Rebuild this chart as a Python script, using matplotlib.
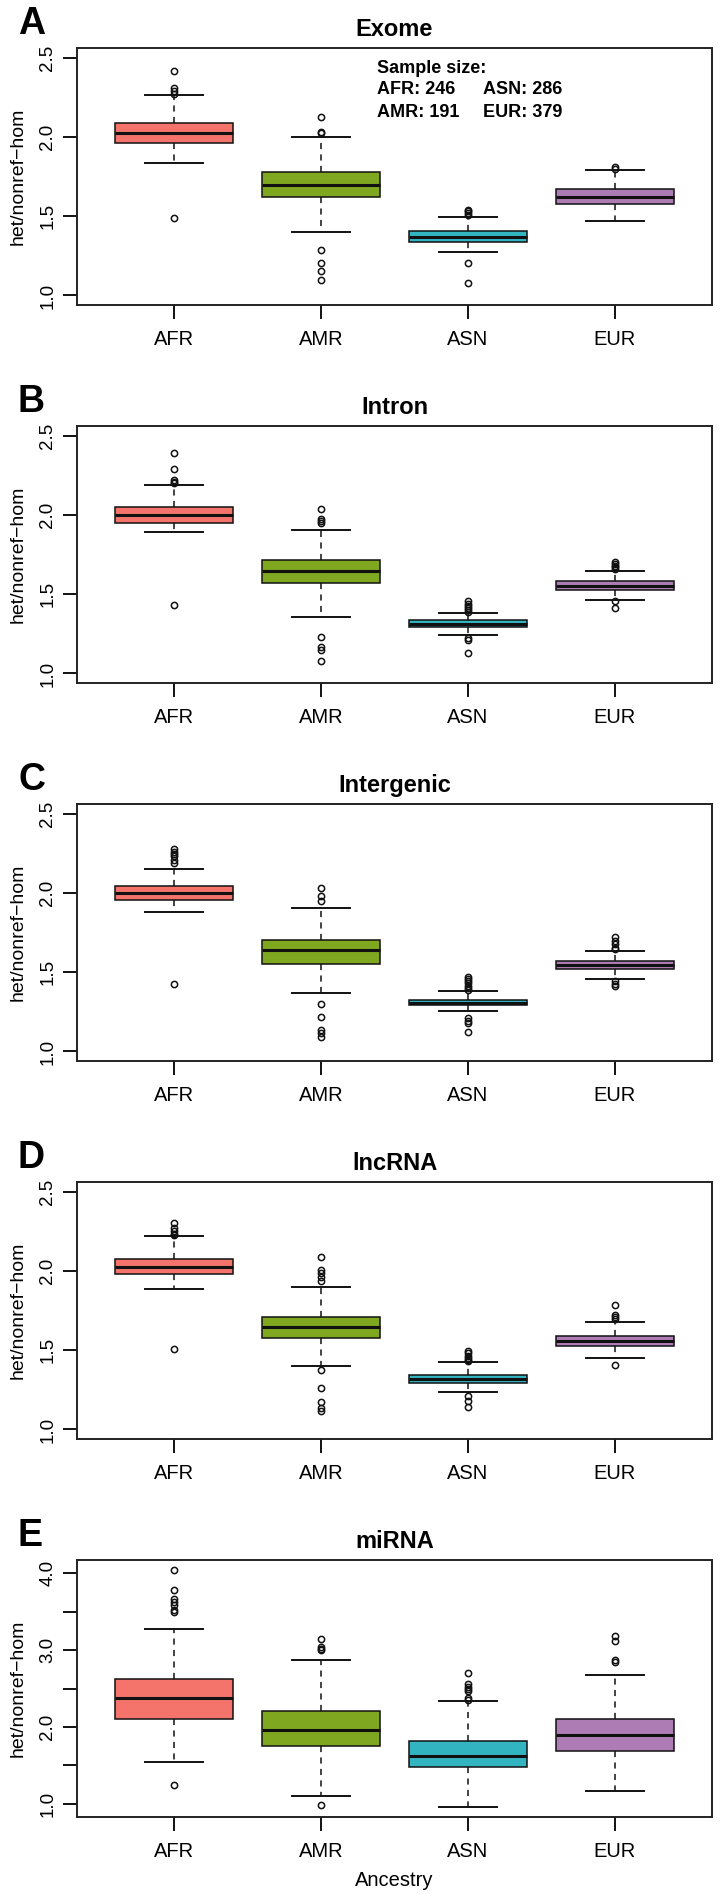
import numpy as np
import matplotlib
matplotlib.use("Agg")
import matplotlib.pyplot as plt

plt.rcParams['font.family'] = ['Liberation Sans', 'DejaVu Sans']

groups = ["AFR", "AMR", "ASN", "EUR"]
colors = ["#F4736B", "#7FA720", "#32B4C1", "#AE7CB4"]

# Exome
exome_lo = [1.836, 1.398, 1.272, 1.467]
exome_q1 = [1.960, 1.620, 1.335, 1.576]
exome_med = [2.022, 1.698, 1.369, 1.620]
exome_q3 = [2.085, 1.777, 1.409, 1.673]
exome_hi = [2.263, 2.000, 1.492, 1.792]
exome_fliers = [[2.414, 2.305, 2.290, 2.272, 1.488],
                 [2.127, 2.033, 2.025, 1.285, 1.205, 1.153, 1.096],
                 [1.540, 1.530, 1.520, 1.510, 1.205, 1.080],
                 [1.813, 1.800]]

# Intron
intron_lo = [1.892, 1.359, 1.245, 1.466]
intron_q1 = [1.950, 1.573, 1.296, 1.527]
intron_med = [1.996, 1.648, 1.315, 1.554]
intron_q3 = [2.051, 1.717, 1.334, 1.581]
intron_hi = [2.185, 1.906, 1.384, 1.648]
intron_fliers = [[2.391, 2.290, 2.221, 2.210, 2.200, 1.430],
                 [2.038, 1.975, 1.959, 1.948, 1.229, 1.166, 1.145, 1.076],
                 [1.455, 1.440, 1.425, 1.410, 1.400, 1.390, 1.224, 1.210, 1.126],
                 [1.700, 1.690, 1.680, 1.670, 1.660, 1.455, 1.413]]

# Intergenic
inter_lo = [1.877, 1.369, 1.254, 1.459]
inter_q1 = [1.957, 1.554, 1.290, 1.522]
inter_med = [1.999, 1.638, 1.308, 1.545]
inter_q3 = [2.043, 1.700, 1.327, 1.571]
inter_hi = [2.150, 1.902, 1.380, 1.634]
inter_fliers = [[2.278, 2.260, 2.245, 2.230, 2.210, 2.190, 1.424],
                [2.032, 1.980, 1.948, 1.302, 1.220, 1.136, 1.115, 1.094],
                [1.472, 1.460, 1.445, 1.430, 1.415, 1.400, 1.390, 1.214, 1.193, 1.178, 1.124],
                [1.724, 1.696, 1.675, 1.655, 1.645, 1.445, 1.424, 1.413]]

# lncRNA
lnc_lo = [1.885, 1.403, 1.237, 1.449]
lnc_q1 = [1.980, 1.577, 1.294, 1.529]
lnc_med = [2.022, 1.646, 1.319, 1.560]
lnc_q3 = [2.076, 1.709, 1.344, 1.592]
lnc_hi = [2.217, 1.900, 1.424, 1.678]
lnc_fliers = [[2.300, 2.270, 2.248, 2.233, 2.223, 1.506],
              [2.087, 2.003, 1.986, 1.960, 1.938, 1.373, 1.262, 1.172, 1.136, 1.115],
              [1.493, 1.480, 1.465, 1.450, 1.440, 1.430, 1.210, 1.178, 1.140],
              [1.782, 1.724, 1.709, 1.696, 1.405]]

# miRNA
mirna_lo = [1.540, 1.099, 0.961, 1.173]
mirna_q1 = [2.100, 1.747, 1.475, 1.691]
mirna_med = [2.372, 1.962, 1.617, 1.898]
mirna_q3 = [2.618, 2.208, 1.820, 2.109]
mirna_hi = [3.279, 2.869, 2.338, 2.670]
mirna_fliers = [[4.043, 3.775, 3.663, 3.624, 3.590, 3.525, 3.490, 1.246],
                [3.149, 3.041, 3.015, 2.994, 0.991],
                [2.696, 2.554, 2.523, 2.498, 2.467, 2.380, 2.351],
                [3.180, 3.115, 2.869, 2.843]]

sample_text = [("AFR: 246", "ASN: 286"), ("AMR: 191", "EUR: 379")]

panels = [
    ("A", "Exome", exome_lo, exome_q1, exome_med, exome_q3, exome_hi, exome_fliers),
    ("B", "Intron", intron_lo, intron_q1, intron_med, intron_q3, intron_hi, intron_fliers),
    ("C", "Intergenic", inter_lo, inter_q1, inter_med, inter_q3, inter_hi, inter_fliers),
    ("D", "lncRNA", lnc_lo, lnc_q1, lnc_med, lnc_q3, lnc_hi, lnc_fliers),
    ("E", "miRNA", mirna_lo, mirna_q1, mirna_med, mirna_q3, mirna_hi, mirna_fliers),
]

W, H = 720, 1894
fig = plt.figure(figsize=(W / 100, H / 100), dpi=100)

frame_tops = [48, 426, 804, 1182, 1560]
frame_h = 257
left, right = 77, 712

for i, (letter, title, lo, q1, med, q3, hi, fliers) in enumerate(panels):
    top = frame_tops[i]
    ax = fig.add_axes([left / W, 1 - (top + frame_h) / H, (right - left) / W, frame_h / H])

    stats = []
    for k in range(4):
        stats.append(dict(whislo=lo[k], q1=q1[k], med=med[k], q3=q3[k],
                          whishi=hi[k], fliers=fliers[k]))
    bp = ax.bxp(stats, positions=[1, 2, 3, 4], widths=0.8, patch_artist=True,
                boxprops=dict(linewidth=1.1, edgecolor="#111111"),
                medianprops=dict(linewidth=2.2, color="#111111"),
                whiskerprops=dict(linewidth=1.1, linestyle=(0, (4, 3.5)), color="#111111"),
                capprops=dict(linewidth=1.4, color="#111111"),
                flierprops=dict(marker="o", markerfacecolor="none", markeredgecolor="#111111",
                                markersize=4.5, markeredgewidth=1.1))
    for patch, c in zip(bp["boxes"], colors):
        patch.set_facecolor(c)

    ax.set_xlim(0.34, 4.66)
    ax.set_xticks([1, 2, 3, 4])
    ax.set_xticklabels(groups, fontsize=14.5)
    if letter == "E":
        ax.set_ylim(0.83, 4.17)
        ax.set_yticks([1.0, 1.5, 2.0, 2.5, 3.0, 3.5, 4.0])
        ax.set_yticklabels(["1.0", "", "2.0", "", "3.0", "", "4.0"])
        ax.set_xlabel("Ancestry", fontsize=14.5, labelpad=7)
    else:
        ax.set_ylim(0.94, 2.56)
        ax.set_yticks([1.0, 1.5, 2.0, 2.5])
        ax.set_yticklabels(["1.0", "1.5", "2.0", "2.5"])

    for lab in ax.get_yticklabels():
        lab.set_rotation(90)
        lab.set_va("center")
        lab.set_fontsize(13.5)
    ax.tick_params(axis="x", length=10, width=1.4, pad=8, color="#111111")
    ax.tick_params(axis="y", length=10, width=1.4, pad=5, color="#111111")
    for sp in ax.spines.values():
        sp.set_linewidth(1.4)
        sp.set_color("#222222")

    ax.set_ylabel("het/nonref\u2212hom", fontsize=14, va="center")
    ax.yaxis.set_label_coords(-(left - 18) / (right - left), 0.5)
    ax.set_title(title, fontsize=17, fontweight="bold", pad=9)

    fig.text(18 / W, 1 - (top - 24) / H, letter, fontsize=27, fontweight="bold",
             ha="left", va="center")

    if letter == "A":
        ax.text(2.378, 2.431, "Sample size:", fontsize=13, fontweight="bold", va="center")
        ax.text(2.378, 2.300, sample_text[0][0], fontsize=13, fontweight="bold", va="center")
        ax.text(3.10, 2.300, sample_text[0][1], fontsize=13, fontweight="bold", va="center")
        ax.text(2.378, 2.155, sample_text[1][0], fontsize=13, fontweight="bold", va="center")
        ax.text(3.10, 2.155, sample_text[1][1], fontsize=13, fontweight="bold", va="center")

fig.savefig("out.png", dpi=100)
